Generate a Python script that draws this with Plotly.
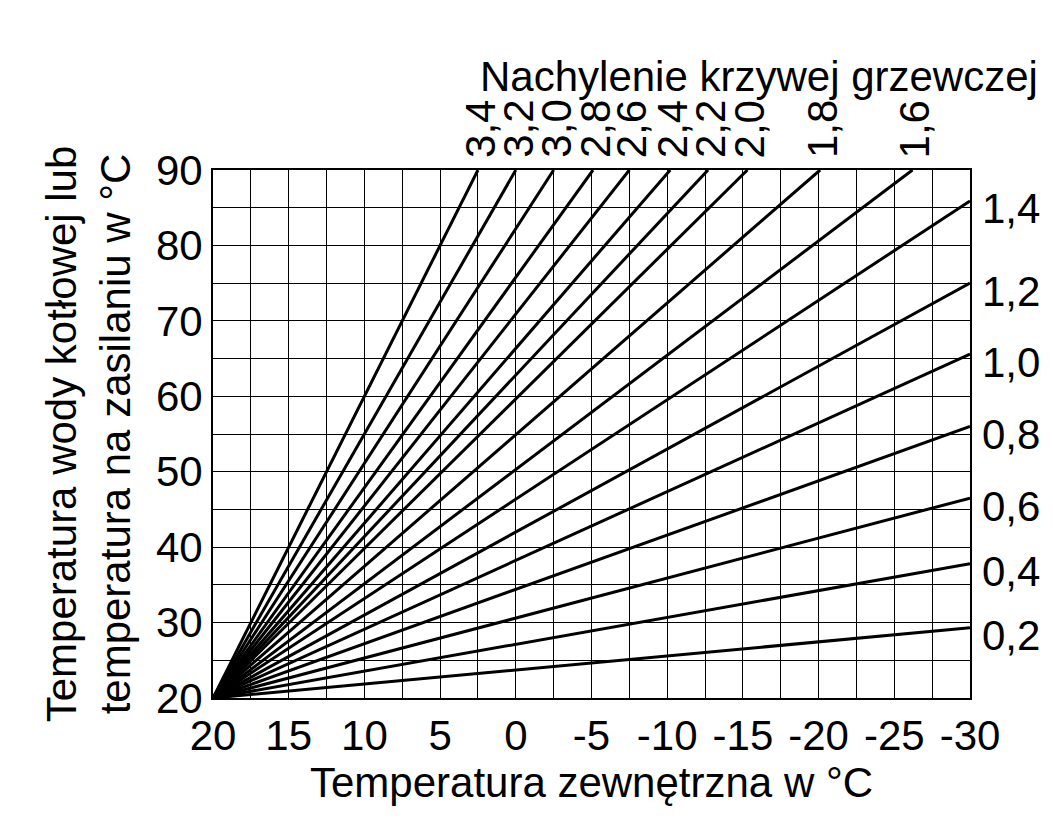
import plotly.graph_objects as go

# slopes with their end points (lines start at 20 °C / 20 °C)
slopes_right = ["0,2", "0,4", "0,6", "0,8", "1,0", "1,2", "1,4"]
end_y_right = [29.3, 37.8, 46.5, 56.0, 65.6, 75.0, 85.9]   # at -30 °C
slopes_top = ["1,6", "1,8", "2,0", "2,2", "2,4", "2,6", "2,8", "3,0", "3,2", "3,4"]
end_x_top = [-26.2, -20.1, -15.3, -12.7, -10.2, -7.5, -5.1, -2.5, 0.0, 2.5]  # at 90 °C

FONT = "Liberation Sans, Arial"
BIG = 42
fig = go.Figure()
for y in end_y_right:
    fig.add_trace(go.Scatter(x=[20, -30], y=[20, y], mode="lines",
                             line=dict(color="black", width=3), showlegend=False))
for x in end_x_top:
    fig.add_trace(go.Scatter(x=[20, x], y=[20, 90], mode="lines",
                             line=dict(color="black", width=3), showlegend=False))

for lab, y in zip(slopes_right, end_y_right):
    fig.add_annotation(x=1.0, xref="paper", y=y, text=lab, showarrow=False,
                       xanchor="left", xshift=10, yshift=-8, font=dict(size=BIG, family=FONT))
for lab, x in zip(slopes_top, end_x_top):
    fig.add_annotation(x=x, y=90, text=lab, showarrow=False, textangle=-90,
                       yanchor="bottom", xanchor="center", xshift=2, yshift=10,
                       font=dict(size=BIG, family=FONT))
fig.add_annotation(x=0.35, xref="paper", y=1.225, yref="paper",
                   text="Nachylenie krzywej grzewczej", showarrow=False,
                   xanchor="left", font=dict(size=BIG, family=FONT))

fig.update_xaxes(range=[20, -30], tickvals=list(range(20, -31, -5)),
                 ticktext=["20", "15", "10", "5", "0", "-5", "-10", "-15", "-20", "-25", "-30"],
                 showgrid=True, gridcolor="black", gridwidth=1,
                 minor=dict(dtick=2.5, showgrid=True, gridcolor="black", gridwidth=1),
                 showline=True, linecolor="black", linewidth=2, mirror=True,
                 zeroline=False, ticks="", title=dict(text="Temperatura zewnętrzna w °C",
                 font=dict(size=BIG, family=FONT), standoff=0),
                 tickfont=dict(size=BIG, family=FONT))
fig.update_yaxes(range=[20, 90], dtick=10, showgrid=True, gridcolor="black", gridwidth=1,
                 minor=dict(dtick=5, showgrid=True, gridcolor="black", gridwidth=1),
                 showline=True, linecolor="black", linewidth=2, mirror=True,
                 zeroline=False, ticks="",
                 title=dict(text="Temperatura wody kotłowej lub<br>temperatura na zasilaniu w °C",
                            font=dict(size=BIG, family=FONT), standoff=12),
                 tickfont=dict(size=BIG, family=FONT))
fig.update_layout(width=1053, height=838, plot_bgcolor="white", paper_bgcolor="white",
                  margin=dict(l=205, r=91, t=162, b=148, autoexpand=False),
                  font=dict(color="black"))
fig.write_html("out.html")
